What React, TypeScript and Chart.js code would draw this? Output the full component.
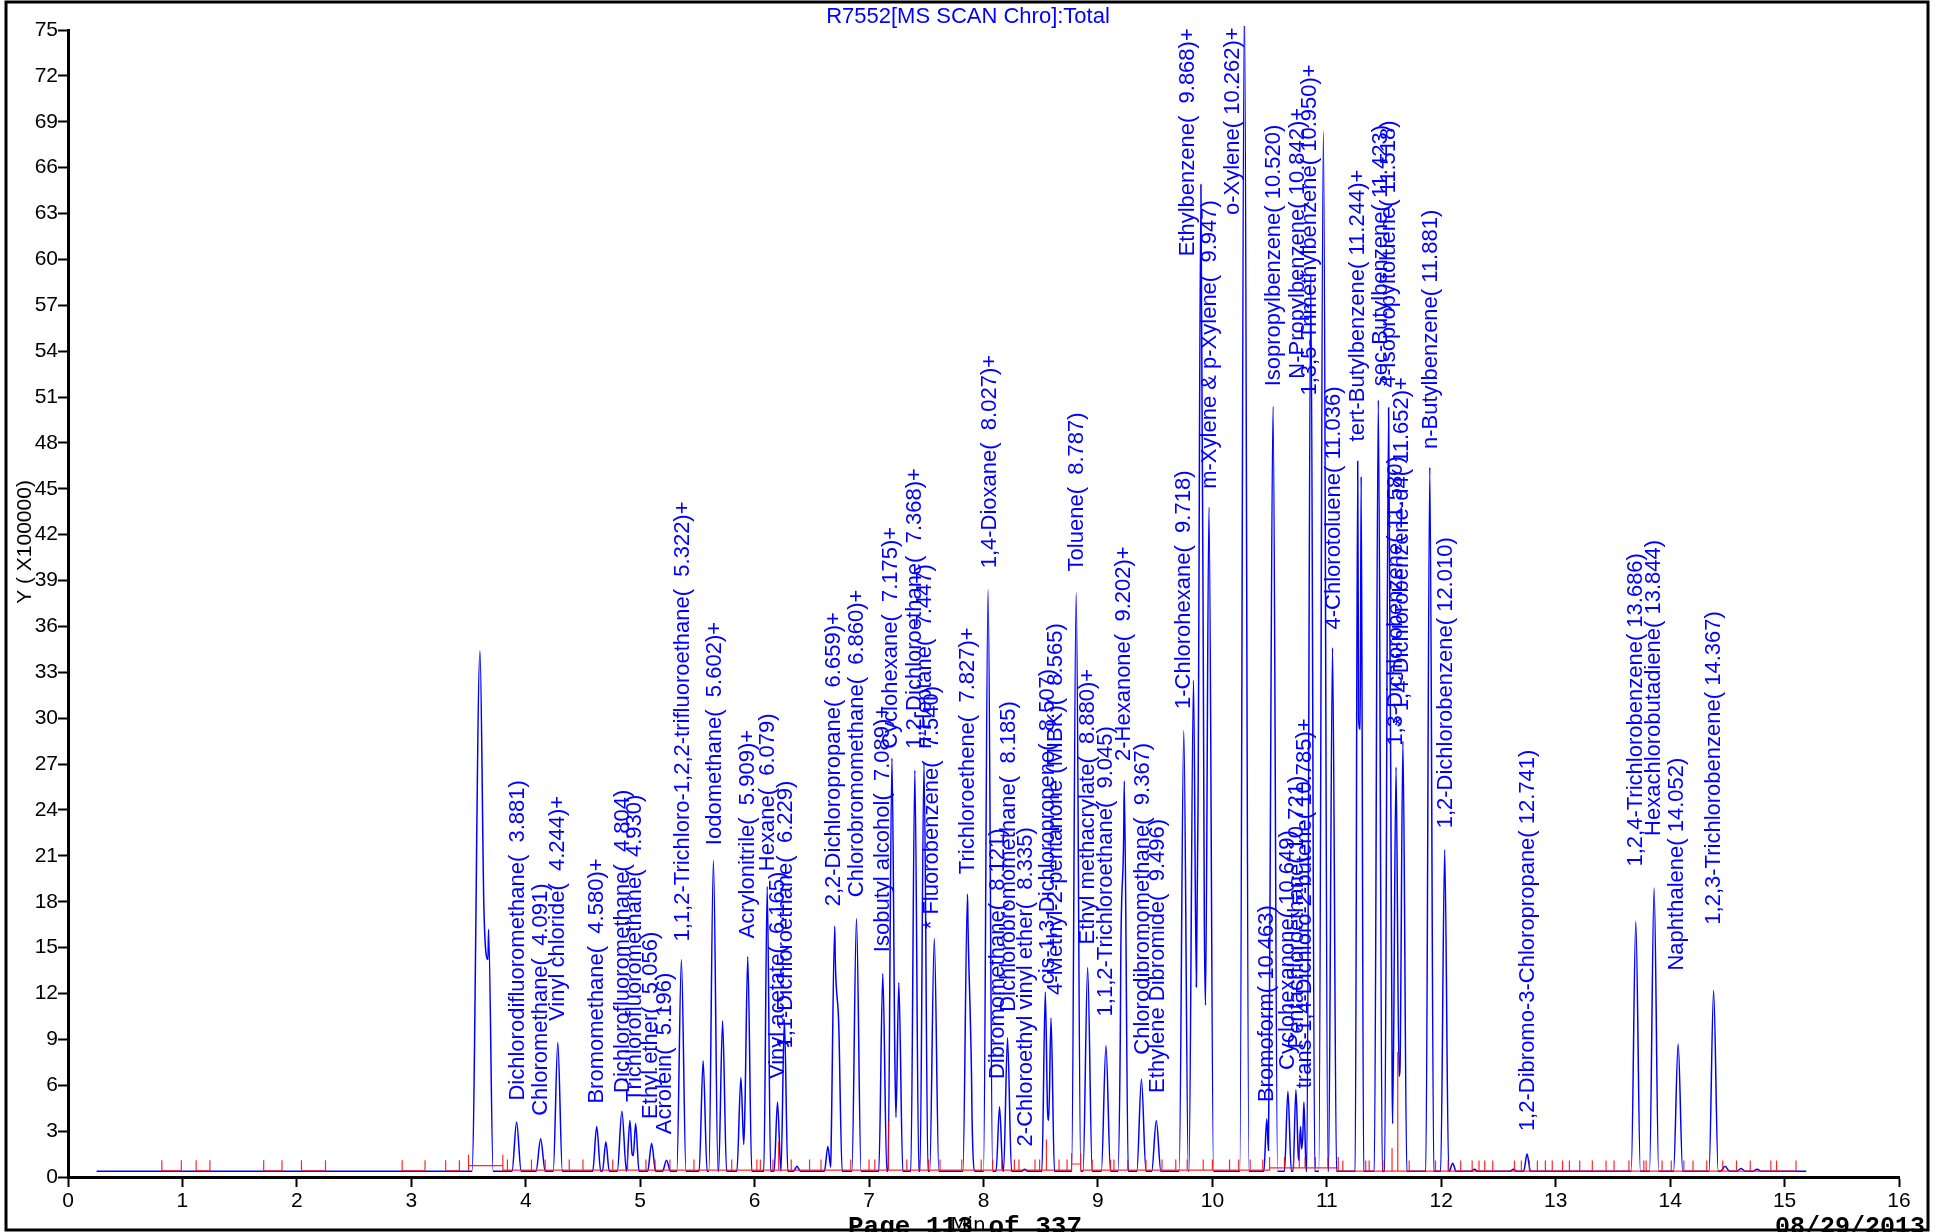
import React, { useEffect, useRef } from "react";
import { Chart, registerables } from "chart.js";

Chart.register(...registerables);

// ---------------- DATA ----------------
const titleText = "R7552[MS SCAN Chro]:Total";
const yTitleText = "Y ( X100000)";
const xTitleText = "Min";
const pageText = "Page 113 of 337";
const dateText = "08/29/2013";

const traceStart = 0.25;
const traceEnd = 15.19;
const baseLevel = 0.37;

// chromatogram peaks: retention time (min), apex (x100000), half base width (min)
const peakTimes = [3.6, 3.675, 3.92, 4.13, 4.28, 4.62, 4.7, 4.84, 4.91, 4.96, 5.1, 5.23, 5.36, 5.55, 5.64, 5.72, 5.88, 5.94, 6.11, 6.2, 6.26, 6.37, 6.64, 6.7, 6.735, 6.89, 7.12, 7.2, 7.26, 7.4, 7.48, 7.57, 7.86, 7.895, 8.04, 8.14, 8.21, 8.36, 8.54, 8.59, 8.81, 8.91, 9.07, 9.2, 9.23, 9.38, 9.51, 9.75, 9.835, 9.9, 9.97, 10.28, 10.475, 10.53, 10.66, 10.73, 10.77, 10.8, 10.86, 10.97, 11.05, 11.27, 11.3, 11.45, 11.54, 11.605, 11.665, 11.9, 12.03, 12.1, 12.29, 12.63, 12.75, 13.7, 13.86, 14.07, 14.38, 14.48, 14.62, 14.76];
const peakHeights = [34.4, 16.2, 3.6, 2.5, 8.8, 3.3, 2.3, 4.3, 3.7, 3.5, 2.2, 1.1, 14.2, 7.6, 20.7, 10.2, 6.5, 14.4, 19.0, 4.9, 10.3, 0.7, 2.0, 16.4, 10.0, 16.9, 13.3, 27.4, 12.7, 26.6, 27.1, 15.6, 18.5, 4.5, 38.4, 4.6, 9.1, 0.5, 12.1, 10.4, 38.2, 13.7, 8.6, 11.0, 25.9, 6.4, 3.7, 29.2, 32.5, 64.9, 43.8, 77.0, 3.8, 50.4, 5.6, 5.7, 3.3, 4.9, 59.0, 68.4, 34.6, 46.8, 45.8, 50.8, 50.3, 26.8, 28.5, 46.4, 21.4, 0.9, 0.5, 0.5, 1.5, 16.7, 18.9, 8.7, 12.2, 0.7, 0.55, 0.5];
const peakHalfWidths = [0.07, 0.04, 0.04, 0.04, 0.04, 0.035, 0.03, 0.04, 0.03, 0.03, 0.035, 0.035, 0.04, 0.035, 0.04, 0.035, 0.035, 0.035, 0.03, 0.03, 0.03, 0.03, 0.03, 0.035, 0.03, 0.04, 0.035, 0.035, 0.035, 0.035, 0.035, 0.04, 0.04, 0.03, 0.04, 0.03, 0.035, 0.03, 0.03, 0.03, 0.04, 0.04, 0.04, 0.025, 0.035, 0.04, 0.04, 0.04, 0.04, 0.04, 0.04, 0.04, 0.025, 0.04, 0.03, 0.025, 0.02, 0.02, 0.035, 0.04, 0.035, 0.022, 0.022, 0.035, 0.035, 0.034, 0.034, 0.035, 0.035, 0.03, 0.03, 0.03, 0.03, 0.04, 0.04, 0.04, 0.04, 0.04, 0.04, 0.04];

// integration baseline marks (red)
const redTickTimes = [0.82, 0.99, 1.12, 1.24, 1.71, 1.87, 2.04, 2.25, 2.92, 3.12, 3.3, 3.42, 3.5, 3.8, 3.84, 4.05, 4.17, 4.38, 4.5, 4.76, 4.89, 5.05, 5.13, 5.26, 5.47, 5.8, 6.02, 6.05, 6.16, 6.21, 6.32, 6.48, 6.58, 6.84, 7.0, 7.05, 7.17, 7.33, 7.44, 7.52, 7.62, 7.81, 7.98, 8.08, 8.16, 8.27, 8.31, 8.45, 8.49, 8.55, 8.66, 8.73, 8.77, 8.85, 8.95, 9.11, 9.14, 9.26, 9.42, 9.56, 9.68, 9.78, 9.92, 10.0, 10.15, 10.23, 10.33, 10.44, 10.5, 10.63, 10.71, 10.76, 10.81, 10.9, 11.01, 11.1, 11.14, 11.34, 11.37, 11.49, 11.57, 11.62, 11.72, 11.95, 12.06, 12.17, 12.27, 12.33, 12.38, 12.45, 12.64, 12.7, 12.77, 12.84, 12.91, 12.97, 13.06, 13.12, 13.21, 13.32, 13.44, 13.51, 13.64, 13.77, 13.79, 13.93, 14.01, 14.12, 14.2, 14.32, 14.46, 14.58, 14.7, 14.88, 14.93, 15.1];
const redTickHeights = [0.7, 0.7, 0.7, 0.7, 0.7, 0.7, 0.7, 0.7, 0.7, 0.7, 0.7, 0.7, 0.7, 0.7, 0.7, 0.7, 0.7, 0.7, 0.7, 0.7, 1.4, 0.7, 0.7, 0.7, 0.7, 0.7, 0.7, 0.7, 0.7, 1.85, 0.7, 0.7, 0.7, 0.7, 0.7, 0.7, 3.2, 0.7, 0.7, 0.7, 0.7, 0.7, 0.7, 0.7, 0.7, 0.7, 0.7, 0.7, 0.7, 2.0, 0.7, 0.7, 0.7, 0.7, 0.7, 0.7, 0.7, 0.7, 0.7, 0.7, 0.7, 0.7, 0.7, 0.7, 0.7, 0.7, 0.7, 0.7, 0.7, 0.7, 0.7, 2.1, 0.7, 0.7, 0.7, 0.7, 0.7, 0.7, 0.7, 0.7, 1.5, 7.8, 0.7, 0.7, 0.7, 0.7, 0.7, 0.7, 0.7, 0.7, 0.7, 0.7, 0.7, 0.7, 0.7, 0.7, 0.7, 0.7, 0.7, 0.7, 0.7, 0.7, 0.7, 0.7, 0.7, 0.7, 0.7, 0.7, 0.7, 0.7, 0.7, 0.7, 0.7, 0.7, 0.7, 0.7];
const redGapAfter = [0.99, 1.24, 1.87, 2.25, 3.12, 3.42];
const redLevelTimes = [0.0, 3.5, 3.8, 8.77, 8.85, 10.5, 11.1];
const redLevelValues = [0.4, 0.75, 0.45, 0.85, 0.45, 0.6, 0.38];

// peak annotations: text, label position (min), label start value
const labelTexts = [
  "Dichlorodifluoromethane(  3.881)",
  "Chloromethane(  4.091)",
  "Vinyl chloride(  4.244)+",
  "Bromomethane(  4.580)+",
  "Dichlorofluoromethane(  4.804)",
  "Trichlorofluoromethane(  4.930)",
  "Ethyl ether(  5.056)",
  "Acrolein(  5.196)",
  "1,1,2-Trichloro-1,2,2-trifluoroethane(  5.322)+",
  "Iodomethane(  5.602)+",
  "Acrylonitrile(  5.909)+",
  "Hexane(  6.079)",
  "Vinyl acetate(  6.165)",
  "1,1-Dichloroethane(  6.229)",
  "2,2-Dichloropropane(  6.659)+",
  "Chlorobromomethane(  6.860)+",
  "Isobutyl alcohol(  7.089)+",
  "Cyclohexane(  7.175)+",
  "1,2-Dichloroethane(  7.368)+",
  "n-Heptane(  7.447)",
  "* Fluorobenzene(  7.540)",
  "Trichloroethene(  7.827)+",
  "1,4-Dioxane(  8.027)+",
  "Dibromomethane(  8.121)",
  "Dichlorobromomethane(  8.185)",
  "2-Chloroethyl vinyl ether(  8.335)",
  "cis-1,3-Dichloropropene(  8.507)",
  "4-Methyl-2-pentanone (MIBK)(  8.565)",
  "Toluene(  8.787)",
  "Ethyl methacrylate(  8.880)+",
  "1,1,2-Trichloroethane(  9.045)",
  "2-Hexanone(  9.202)+",
  "Chlorodibromomethane(  9.367)",
  "Ethylene Dibromide(  9.496)",
  "1-Chlorohexane(  9.718)",
  "Ethylbenzene(  9.868)+",
  "m-Xylene & p-Xylene(  9.947)",
  "o-Xylene( 10.262)+",
  "Isopropylbenzene( 10.520)",
  "Bromoform( 10.463)",
  "Cyclohexanone( 10.649)",
  "Pentachloroethane( 10.721)",
  "trans-1,4-Dichloro-2-butene( 10.785)+",
  "N-Propylbenzene( 10.842)+",
  "1,3,5-Trimethylbenzene( 10.950)+",
  "4-Chlorotoluene( 11.036)",
  "tert-Butylbenzene( 11.244)+",
  "sec-Butylbenzene( 11.423)",
  "4-Isopropyltoluene( 11.518)",
  "1,3-Dichlorobenzene( 11.580)",
  "* 1,4-Dichlorobenzene-d4( 11.652)+",
  "n-Butylbenzene( 11.881)",
  "1,2-Dichlorobenzene( 12.010)",
  "1,2-Dibromo-3-Chloropropane( 12.741)",
  "1,2,4-Trichlorobenzene( 13.686)",
  "Hexachlorobutadiene( 13.844)",
  "Naphthalene( 14.052)",
  "1,2,3-Trichlorobenzene( 14.367)",
];
const labelTimes = [3.93, 4.13, 4.28, 4.62, 4.85, 4.95, 5.09, 5.22, 5.37, 5.65, 5.94, 6.12, 6.2, 6.27, 6.69, 6.89, 7.12, 7.19, 7.4, 7.49, 7.55, 7.86, 8.06, 8.13, 8.22, 8.37, 8.56, 8.63, 8.82, 8.91, 9.07, 9.23, 9.39, 9.52, 9.75, 9.79, 9.98, 10.18, 10.54, 10.48, 10.66, 10.74, 10.81, 10.75, 10.85, 11.06, 11.27, 11.47, 11.54, 11.6, 11.66, 11.91, 12.04, 12.76, 13.7, 13.86, 14.06, 14.38];
const labelStarts = [5.0, 4.0, 10.2, 4.8, 5.5, 4.9, 3.8, 2.8, 15.4, 21.7, 15.6, 20.0, 6.4, 8.4, 17.7, 18.3, 14.7, 28.0, 28.0, 28.0, 16.2, 19.8, 39.8, 6.4, 10.8, 2.0, 12.6, 11.9, 39.6, 15.2, 10.5, 27.2, 8.0, 5.5, 30.6, 60.2, 45.0, 62.9, 51.7, 4.9, 7.0, 8.4, 5.8, 52.2, 51.1, 35.8, 48.1, 51.7, 51.6, 28.2, 29.5, 47.6, 22.8, 3.0, 20.3, 22.3, 13.5, 16.5];

// axes
const xMin = 0;
const xMax = 16;
const xStep = 1;
const yMin = 0;
const yMax = 75;
const yStep = 3;

// ---------------- BUILD SERIES ----------------
function buildTrace() {
  const ts: number[] = [traceStart, traceEnd];
  peakTimes.forEach((t, i) => {
    const w = peakHalfWidths[i];
    ts.push(t - w, t, t + w);
  });
  const uniq = Array.from(new Set(ts.map((t) => Math.round(t * 10000) / 10000)))
    .filter((t) => t >= traceStart && t <= traceEnd)
    .sort((a, b) => a - b);
  return uniq.map((t) => {
    let v = baseLevel;
    peakTimes.forEach((pt, i) => {
      const w = peakHalfWidths[i];
      const f = 1 - Math.abs(t - pt) / w;
      if (f > 0) v += (peakHeights[i] - baseLevel) * f;
    });
    return { x: t, y: v };
  });
}

function redLevelAt(t: number) {
  let lv = redLevelValues[0];
  redLevelTimes.forEach((lt, i) => {
    if (t >= lt) lv = redLevelValues[i];
  });
  return lv;
}

function buildRed() {
  const pts: any[] = [];
  redTickTimes.forEach((t, i) => {
    const lv = redLevelAt(t);
    const prevLv = i > 0 ? redLevelAt(redTickTimes[i - 1]) : lv;
    pts.push({ x: t, y: prevLv });
    pts.push({ x: t, y: Math.max(prevLv, lv) + redTickHeights[i] });
    pts.push({ x: t, y: lv });
    if (redGapAfter.some((g) => Math.abs(g - t) < 1e-6)) {
      pts.push({ x: t + 0.001, y: null });
    }
  });
  return pts;
}

// ---------------- COMPONENT ----------------
const W = 1940;
const H = 1232;
const AREA_LEFT = 68;
const AREA_RIGHT = 1899;
const AREA_TOP = 30;
const AREA_BOTTOM = 1177;

const LABEL_FONT = '22px "Liberation Sans", Arial, sans-serif';
const BLUE = "#0000ff";

export default function App() {
  const ref = useRef<HTMLCanvasElement | null>(null);

  useEffect(() => {
    document.body.style.margin = "0";
    const canvas = ref.current;
    if (!canvas) return;

    const overlay = {
      id: "overlay",
      afterDraw(chart: any) {
        const ctx = chart.ctx;
        const xs = chart.scales.x;
        const ys = chart.scales.y;
        ctx.save();
        // peak labels
        ctx.fillStyle = BLUE;
        ctx.font = LABEL_FONT;
        ctx.textAlign = "left";
        ctx.textBaseline = "middle";
        labelTexts.forEach((txt, i) => {
          const px = xs.getPixelForValue(labelTimes[i]);
          const py = ys.getPixelForValue(labelStarts[i]);
          ctx.save();
          ctx.translate(px, py);
          ctx.rotate(-Math.PI / 2);
          ctx.fillText(txt, 0, 0);
          ctx.restore();
        });
        // title
        ctx.font = '22px "Liberation Sans", Arial, sans-serif';
        ctx.textAlign = "center";
        ctx.textBaseline = "middle";
        ctx.fillText(titleText, 968, 17);
        // y title
        ctx.fillStyle = "#000";
        ctx.font = '21px "Liberation Sans", Arial, sans-serif';
        ctx.save();
        ctx.translate(25, 542);
        ctx.rotate(-Math.PI / 2);
        ctx.textAlign = "center";
        ctx.textBaseline = "middle";
        ctx.fillText(yTitleText, 0, 0);
        ctx.restore();
        // x title
        ctx.font = '20px "DejaVu Sans", sans-serif';
        ctx.textAlign = "center";
        ctx.textBaseline = "alphabetic";
        ctx.fillText(xTitleText, 968, 1231);
        // page / date
        ctx.font = 'bold 26px "Liberation Mono", "DejaVu Sans Mono", monospace';
        ctx.textAlign = "left";
        ctx.fillText(pageText, 848, 1234);
        ctx.textAlign = "right";
        ctx.font = 'bold 25px "Liberation Mono", "DejaVu Sans Mono", monospace';
        ctx.fillText(dateText, 1925, 1234);
        // frame
        ctx.strokeStyle = "#000";
        ctx.lineWidth = 3;
        ctx.strokeRect(6, 2, 1922, 1228);
        ctx.restore();
      },
    };

    const chart = new Chart(canvas, {
      type: "line",
      data: {
        datasets: [
          {
            label: "baseline",
            data: buildRed(),
            borderColor: "rgba(255,0,0,0.85)",
            borderWidth: 1.2,
            pointRadius: 0,
            tension: 0,
            spanGaps: false,
            clip: 5,
          },
          {
            label: "TIC",
            data: buildTrace(),
            borderColor: BLUE,
            borderWidth: 1.5,
            pointRadius: 0,
            cubicInterpolationMode: "monotone",
            clip: { left: 0, right: 0, top: 4, bottom: 0 },
          },
        ],
      },
      options: {
        responsive: false,
        animation: false,
        devicePixelRatio: 1,
        parsing: true,
        layout: {
          padding: { left: 0, right: W - AREA_RIGHT, top: AREA_TOP, bottom: 0 },
        },
        plugins: {
          legend: { display: false },
          tooltip: { enabled: false },
          title: { display: false },
        },
        scales: {
          x: {
            type: "linear",
            min: xMin,
            max: xMax,
            ticks: {
              stepSize: xStep,
              color: "#000",
              font: { family: '"Liberation Sans", Arial, sans-serif', size: 21 },
              padding: 2,
              maxRotation: 0,
              autoSkip: false,
            },
            grid: {
              display: true,
              drawOnChartArea: false,
              drawTicks: true,
              tickLength: 10,
              tickWidth: 2,
              color: "#000",
            },
            border: { display: true, color: "#000", width: 3 },
            afterFit: (s: any) => {
              s.height = H - AREA_BOTTOM;
            },
          },
          y: {
            type: "linear",
            min: yMin,
            max: yMax,
            ticks: {
              stepSize: yStep,
              color: "#000",
              font: { family: '"Liberation Sans", Arial, sans-serif', size: 21 },
              padding: 0,
              autoSkip: false,
            },
            grid: {
              display: true,
              drawOnChartArea: false,
              drawTicks: true,
              tickLength: 10,
              tickWidth: 2,
              color: "#000",
            },
            border: { display: true, color: "#000", width: 3 },
            afterFit: (s: any) => {
              s.width = AREA_LEFT;
            },
          },
        },
      },
      plugins: [overlay],
    } as any);

    return () => chart.destroy();
  }, []);

  return (
    <div style={{ width: W, height: H, background: "#fff" }}>
      <canvas ref={ref} width={W} height={H} style={{ width: W, height: H, display: "block" }} />
    </div>
  );
}
